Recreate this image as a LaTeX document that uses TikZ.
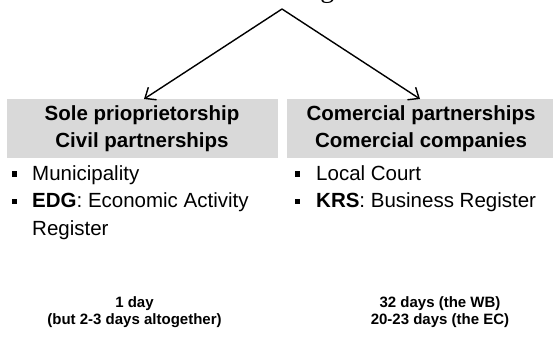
\documentclass[tikz,border=0pt]{standalone}
\usepackage{fontspec}
\setmainfont{Liberation Sans}
\newfontfamily\titlefont{Liberation Serif}
\usetikzlibrary{arrows.meta}
\definecolor{boxgray}{HTML}{D9D9D9}
\begin{document}
\begin{tikzpicture}[x=1pt,y=-1pt,
  headbox/.style={fill=boxgray,draw=none,minimum height=59pt,inner sep=0pt},
  headtext/.style={font=\fontsize{20.5}{27}\selectfont\bfseries,align=center,inner sep=0pt},
  itemtext/.style={font=\fontsize{20.5}{27.5}\selectfont,anchor=north west,align=left,inner sep=0pt},
  bulletsq/.style={fill=black,minimum size=5.5pt,inner sep=0pt},
  daytext/.style={font=\fontsize{15}{17}\selectfont\bfseries,align=center,inner sep=0pt},
  branch/.style={-{Straight Barb[length=9pt,width=15pt,line width=1.4pt]},line width=1.4pt}]
\useasboundingbox (0,0) rectangle (553,351);
\begin{scope}
\clip (0,0) rectangle (553,351);
% title above the tree, cut off at the top edge
\node[font=\titlefont\fontsize{28}{28}\selectfont,anchor=base west,inner sep=0pt] (title) at (289,-3) {Registration};
% category boxes
\node[headbox,minimum width=271pt,anchor=north west] (lbox) at (7,99) {};
\node[headbox,minimum width=270pt,anchor=north west] (rbox) at (287,99) {};
\end{scope}
\coordinate (apex) at (282,9);
\node[headtext] (lhead) at (142,128.5) {Sole prioprietorship\\Civil partnerships};
\node[headtext] (rhead) at (421,128.5) {Comercial partnerships\\Comercial companies};
\draw[branch] (apex) -- (lbox.north -| 144,0);
\draw[branch] (apex) -- (rbox.north -| 420,0);
% left list
\node[bulletsq] (lb1) at (14.5,174) {};
\node[itemtext] (li1) at (32,165) {Municipality};
\node[bulletsq] (lb2) at (14.5,201.5) {};
\node[itemtext] (li2) at (32,192.5) {\textbf{EDG}: Economic Activity\\Register};
% right list
\node[bulletsq] (rb1) at (297.5,174) {};
\node[itemtext] (ri1) at (316,165) {Local Court};
\node[bulletsq] (rb2) at (297.5,201.5) {};
\node[itemtext] (ri2) at (316,192.5) {\textbf{KRS}: Business Register};
% durations
\node[daytext] (ld) at (134.5,312) {1 day\\(but 2-3 days altogether)};
\node[daytext] (rd) at (440,312) {32 days (the WB)\\20-23 days (the EC)};
\end{tikzpicture}
\end{document}
